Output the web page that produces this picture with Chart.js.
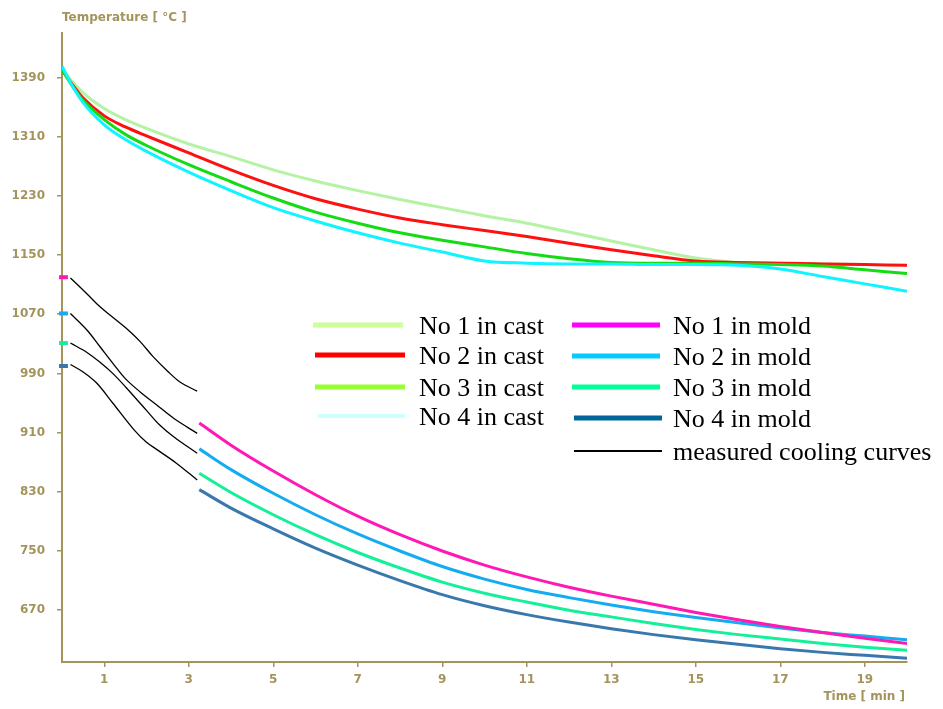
<!DOCTYPE html>
<html>
<head>
<meta charset="utf-8">
<script src="https://cdn.jsdelivr.net/npm/chart.js@4"></script>
<style>
  html, body { margin: 0; padding: 0; background: #fff; }
  #CoolingChart { display: block; }
</style>
</head>
<body>
<canvas id="CoolingChart" width="943" height="709"></canvas>
<script>
// simulated curves in the cast (upper group)
const castTimes = [0, 0.25, 0.5, 1, 1.5, 2, 3, 4, 5, 6, 7, 8, 9, 10, 11, 12, 13, 14, 15, 16, 17, 18, 19, 20];
const cast1 = [1402, 1384, 1369, 1348, 1333, 1321, 1300, 1283, 1265, 1250, 1237, 1225, 1214, 1203, 1193, 1181, 1169, 1157, 1146, 1140, 1139, 1138, 1137, null];
const cast2 = [1400, 1380, 1362, 1338, 1323, 1311, 1288, 1265, 1244, 1226, 1212, 1200, 1191, 1183, 1175, 1166, 1157, 1149, 1142, 1140, 1139, 1138, 1137, 1136];
const cast3 = [1400, 1378, 1359, 1333, 1313, 1298, 1272, 1249, 1227, 1208, 1193, 1180, 1170, 1161, 1152, 1145, 1140, 1139, 1139, 1138, 1137, 1135, 1130, 1125];
const cast4 = [1405, 1378, 1356, 1326, 1306, 1290, 1262, 1237, 1214, 1196, 1180, 1166, 1154, 1142, 1139, 1138, 1138, 1137, 1137, 1136, 1131, 1121, 1111, 1101];

// simulated curves in the mold (lower group)
const moldTimes = [3.25, 4, 5, 6, 7, 8, 9, 10, 11, 12, 13, 14, 15, 16, 17, 18, 19, 20];
const mold1 = [923, 893, 858, 826, 797, 772, 750, 731, 715, 701, 689, 678, 667, 657, 648, 640, 632, 625];
const mold2 = [888, 860, 828, 799, 773, 750, 729, 712, 698, 687, 677, 668, 660, 653, 646, 640, 635, 630];
const mold3 = [855, 829, 799, 772, 748, 727, 708, 693, 681, 670, 661, 652, 644, 637, 631, 625, 620, 616];
const mold4 = [833, 808, 780, 754, 731, 710, 691, 676, 664, 654, 645, 637, 630, 624, 618, 613, 609, 605];

// measured cooling curves (black)
const measured1Times = [0.2, 0.6, 0.9, 1.2, 1.5, 1.85, 2.15, 2.5, 2.8, 3.2];
const measured1 = [1119, 1097, 1080, 1066, 1052, 1033, 1013, 993, 978, 966];
const measured2Times = [0.2, 0.6, 0.9, 1.2, 1.5, 1.85, 2.25, 2.65, 3.2];
const measured2 = [1071, 1048, 1026, 1004, 983, 965, 947, 929, 909];
const measured3Times = [0.2, 0.6, 0.9, 1.2, 1.5, 2.0, 2.3, 2.65, 3.2];
const measured3 = [1031, 1018, 1005, 990, 972, 940, 921, 904, 882];
const measured4Times = [0.2, 0.5, 0.82, 1.2, 1.7, 2.0, 2.3, 2.7, 3.2];
const measured4 = [1002, 992, 977, 950, 914, 897, 885, 869, 846];

// starting temperatures marked on the axis
const startMarks = [1120, 1071, 1031, 1000];
const startMarkTimes = [-0.07, 0.14];

const yTicks = [670, 750, 830, 910, 990, 1070, 1150, 1230, 1310, 1390];
const xTicks = [1, 3, 5, 7, 9, 11, 13, 15, 17, 19];

const castLabels = ["No 1 in cast", "No 2 in cast", "No 3 in cast", "No 4 in cast"];
const moldLabels = ["No 1 in mold", "No 2 in mold", "No 3 in mold", "No 4 in mold"];
const measuredLabel = "measured cooling curves";

const castColors = ["#b4f2a4", "#ff1010", "#14dc14", "#0ff4ff"];
const castLegendColors = ["#ccff99", "#ff0000", "#99ff33", "#ccffff"];
const moldColors = ["#ff18b4", "#14acf0", "#14f09a", "#3878ac"];
const moldLegendColors = ["#ff00ff", "#00ccff", "#00ff99", "#006699"];
const axisColor = "#a3945c";

function toPoints(xs, ys) {
    return xs.map((x, i) => ({ x: x, y: ys[i] }));
}

const datasets = [];

[cast1, cast2, cast3, cast4].forEach((values, i) => {
    datasets.push({
        label: castLabels[i],
        data: toPoints(castTimes, values),
        borderColor: castColors[i],
        borderWidth: 3,
        cubicInterpolationMode: "monotone",
        order: 4 - i
    });
});

[mold1, mold2, mold3, mold4].forEach((values, i) => {
    datasets.push({
        label: moldLabels[i],
        data: toPoints(moldTimes, values),
        borderColor: moldColors[i],
        borderWidth: 3,
        cubicInterpolationMode: "monotone"
    });
});

[[measured1Times, measured1], [measured2Times, measured2], [measured3Times, measured3], [measured4Times, measured4]].forEach(pair => {
    datasets.push({
        label: measuredLabel,
        data: toPoints(pair[0], pair[1]),
        borderColor: "#000",
        borderWidth: 1.3,
        tension: 0.35
    });
});

startMarks.forEach((value, i) => {
    datasets.push({
        label: "",
        data: startMarkTimes.map(t => ({ x: t, y: value })),
        borderColor: moldColors[i],
        borderWidth: 4,
        clip: false,
        tension: 0
    });
});

// legend drawn by hand, two columns like the original figure
const legendItems = [
    { text: castLabels[0], color: castLegendColors[0], width: 5, x1: 313, x2: 403, y: 325, tx: 419 },
    { text: castLabels[1], color: castLegendColors[1], width: 5, x1: 315, x2: 405, y: 355, tx: 419 },
    { text: castLabels[2], color: castLegendColors[2], width: 5, x1: 315, x2: 405, y: 387, tx: 419 },
    { text: castLabels[3], color: castLegendColors[3], width: 4, x1: 318, x2: 405, y: 416, tx: 419 },
    { text: moldLabels[0], color: moldLegendColors[0], width: 5, x1: 572, x2: 660, y: 325, tx: 673 },
    { text: moldLabels[1], color: moldLegendColors[1], width: 5, x1: 572, x2: 660, y: 356, tx: 673 },
    { text: moldLabels[2], color: moldLegendColors[2], width: 5, x1: 572, x2: 660, y: 387, tx: 673 },
    { text: moldLabels[3], color: moldLegendColors[3], width: 5, x1: 574, x2: 662, y: 418, tx: 673 },
    { text: measuredLabel, color: "#000", width: 2, x1: 574, x2: 662, y: 451, tx: 673 }
];

const figureText = {
    id: "figureText",
    afterDraw(chart) {
        const ctx = chart.ctx;
        ctx.save();
        ctx.fillStyle = axisColor;
        ctx.font = "bold 12px 'DejaVu Sans'";
        ctx.textBaseline = "middle";
        ctx.textAlign = "left";
        ctx.fillText("Temperature [ °C ]", chart.chartArea.left, 18);
        ctx.textAlign = "right";
        ctx.fillText("Time [ min ]", chart.chartArea.right - 2, 697);

        ctx.font = "26px 'Liberation Serif'";
        ctx.textAlign = "left";
        ctx.fillStyle = "#000";
        legendItems.forEach(item => {
            ctx.strokeStyle = item.color;
            ctx.lineWidth = item.width;
            ctx.beginPath();
            ctx.moveTo(item.x1, item.y);
            ctx.lineTo(item.x2, item.y);
            ctx.stroke();
            ctx.fillText(item.text, item.tx, item.y + 2);
        });
        ctx.restore();
    }
};

const chart = new Chart(document.getElementById("CoolingChart"), {
    type: "line",
    data: { datasets: datasets },
    options: {
        responsive: false,
        animation: false,
        layout: { padding: { top: 33, right: 36, left: 0, bottom: 0 } },
        elements: {
            point: { radius: 0 },
            line: { tension: 0.4, fill: false }
        },
        plugins: {
            legend: { display: false },
            tooltip: { enabled: false }
        },
        scales: {
            x: {
                type: "linear",
                min: 0,
                max: 20,
                afterFit: scale => { scale.height = 47; },
                afterBuildTicks: scale => { scale.ticks = xTicks.map(v => ({ value: v })); },
                grid: { drawOnChartArea: false, color: axisColor, tickLength: 5, lineWidth: 1.5 },
                border: { color: axisColor, width: 2 },
                ticks: {
                    color: axisColor,
                    font: { family: "DejaVu Sans", size: 12, weight: "bold" },
                    padding: 6,
                    maxRotation: 0,
                    callback: value => String(value)
                }
            },
            y: {
                type: "linear",
                min: 600,
                max: 1450,
                afterFit: scale => { scale.width = 62; },
                afterBuildTicks: scale => { scale.ticks = yTicks.map(v => ({ value: v })); },
                grid: { drawOnChartArea: false, color: axisColor, tickLength: 5, lineWidth: 1.5 },
                border: { color: axisColor, width: 2 },
                ticks: {
                    color: axisColor,
                    font: { family: "DejaVu Sans", size: 12, weight: "bold" },
                    padding: 12,
                    callback: value => String(value)
                }
            }
        }
    },
    plugins: [figureText]
});
</script>
</body>
</html>
